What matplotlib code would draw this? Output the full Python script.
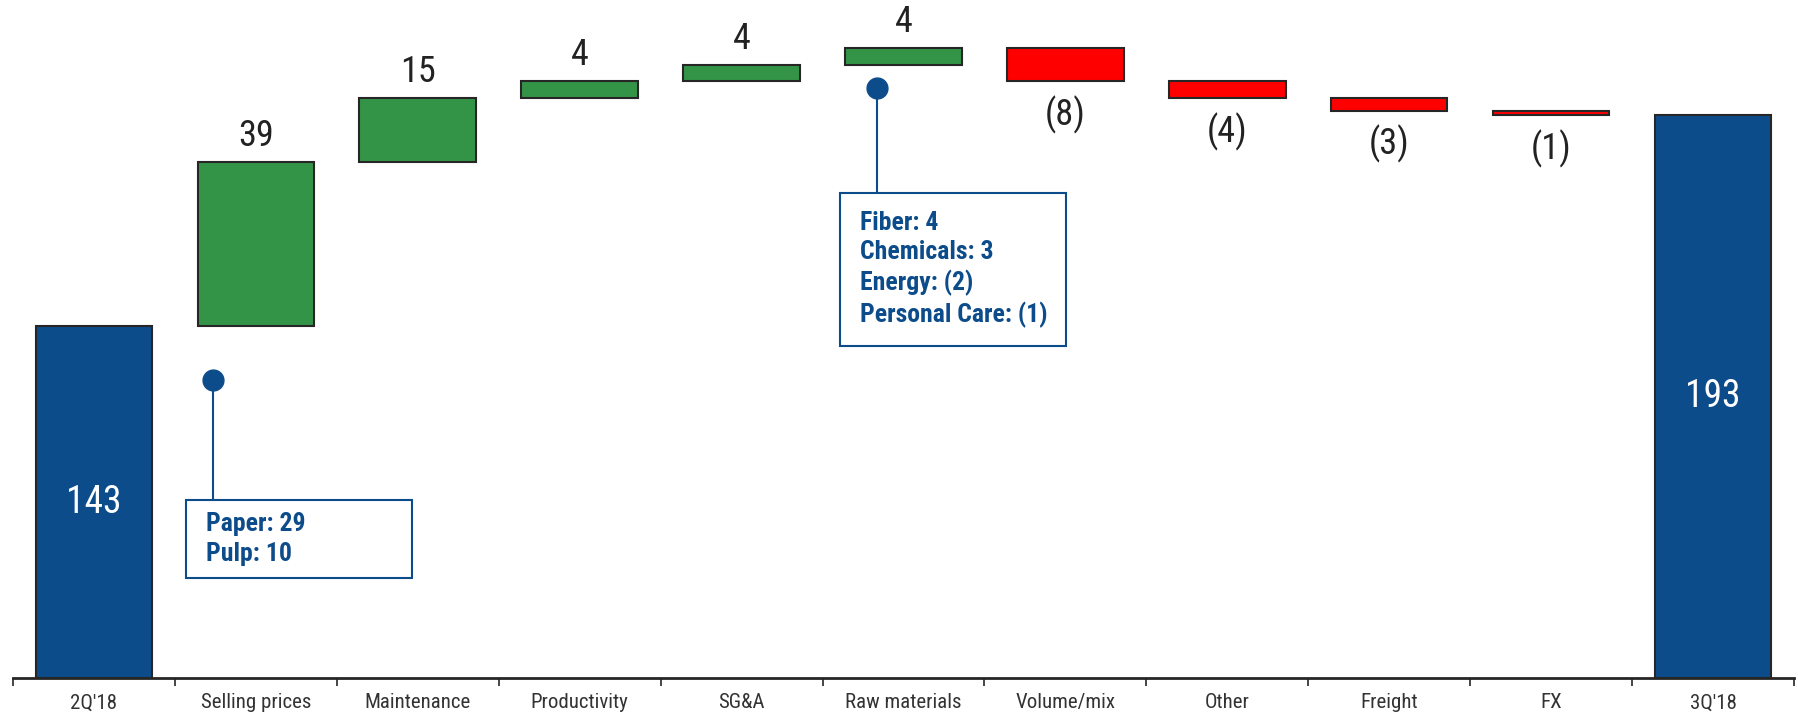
import matplotlib
matplotlib.use("Agg")
import matplotlib.pyplot as plt
from matplotlib.patches import Rectangle
import numpy as np

plt.rcParams['font.family'] = ['Roboto Condensed', 'DejaVu Sans']

# Data
categories = ['2Q\'18', 'Selling prices', 'Maintenance', 'Productivity', 'SG&A',
              'Raw materials', 'Volume/mix', 'Other', 'Freight', 'FX', '3Q\'18']
start_value = 143
changes = [39, 15, 4, 4, 4, -8, -4, -3, -1]
end_value = 193

price_notes = ['Paper: 29', 'Pulp: 10']
material_notes = ['Fiber: 4', 'Chemicals: 3', 'Energy: (2)', 'Personal Care: (1)']

# Colors
BLUE = '#0D4C8B'
GREEN = '#339447'
RED = '#FF0000'
EDGE = '#262626'
TEXT = '#222222'

# Waterfall geometry
deltas = np.array(changes)
running = start_value + np.concatenate([[0], np.cumsum(deltas)])
bottoms = np.where(deltas >= 0, running[:-1], running[1:])
heights = np.abs(deltas)
ymin = 59.6

fig = plt.figure(figsize=(17.99, 7.15), dpi=100)
ax = fig.add_axes([0.0072, 0.0517, 0.99, 0.9483])

x = np.arange(len(categories))
width = 0.72

# Totals
for xi, val in [(x[0], start_value), (x[-1], end_value)]:
    ax.bar(xi, val - ymin, bottom=ymin, width=width, color=BLUE,
           edgecolor=EDGE, linewidth=1.5, zorder=3)
    ax.text(xi, (val + ymin) / 2, f'{val}', ha='center', va='center',
            color='white', fontsize=27)

# Changes
colors = [GREEN if d >= 0 else RED for d in deltas]
ax.bar(x[1:-1], heights, bottom=bottoms, width=width, color=colors,
       edgecolor=EDGE, linewidth=1.5, zorder=3)

for xi, d, b, h in zip(x[1:-1], deltas, bottoms, heights):
    if d >= 0:
        ax.annotate(f'{d}', (xi, b + h), xytext=(0, 8), textcoords='offset pixels',
                    ha='center', va='bottom', fontsize=26, color=TEXT)
    else:
        ax.annotate(f'({-d})', (xi, b), xytext=(0, -14), textcoords='offset pixels',
                    ha='center', va='top', fontsize=26, color=TEXT)


# Callouts
def callout(dot, box, lines):
    (dx, dy), (x0, x1, y0, y1) = dot, box
    ax.plot([dx, dx], [dy, y1], color=BLUE, linewidth=1.5, zorder=4)
    ax.plot(dx, dy, 'o', color=BLUE, markersize=15, zorder=5)
    ax.add_patch(Rectangle((x0, y0), x1 - x0, y1 - y0, facecolor='white',
                           edgecolor=BLUE, linewidth=1.5, zorder=4))
    ax.annotate('\n'.join(lines), (x0, (y0 + y1) / 2), xytext=(20, 0),
                textcoords='offset pixels', ha='left', va='center',
                fontsize=18.5, fontweight='bold', color=BLUE,
                linespacing=1.28, zorder=6)


callout((0.735, 130.2), (0.569, 1.964, 83.3, 101.8), price_notes)
callout((4.837, 199.4), (4.608, 6.004, 138.3, 174.5), material_notes)

# Axes
ax.set_xlim(-0.5, len(categories) - 0.5)
ax.set_ylim(ymin, 220.3)
ax.set_xticks(x)
ax.set_xticklabels(categories, fontsize=15, color='#333333')
ax.set_xticks(np.arange(-0.5, len(categories)), minor=True)
ax.tick_params(axis='x', which='major', length=0, pad=11)
ax.tick_params(axis='x', which='minor', length=6, width=1.2, direction='out',
               color=EDGE)
ax.set_yticks([])
for side in ['top', 'right', 'left']:
    ax.spines[side].set_visible(False)
ax.spines['bottom'].set_linewidth(2)
ax.spines['bottom'].set_color(EDGE)
ax.spines['bottom'].set_zorder(4)

fig.savefig('out.png', dpi=100)
